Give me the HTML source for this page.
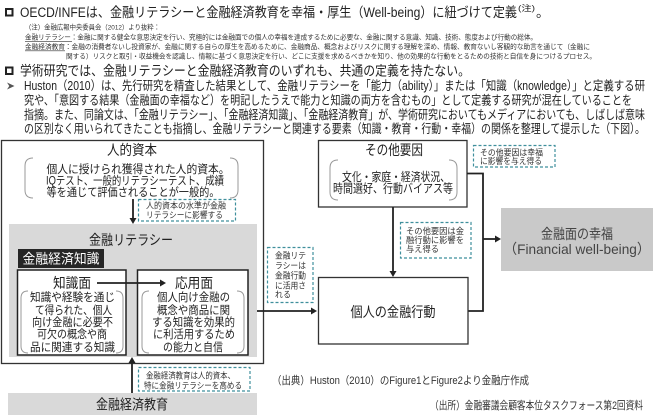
<!DOCTYPE html>
<html><head><meta charset="utf-8">
<style>
html,body{margin:0;padding:0;background:#fff;}
svg{display:block;}
text{font-family:"Liberation Sans","Noto Sans CJK JP",sans-serif;}
</style></head>
<body>
<svg width="660" height="419" viewBox="0 0 660 419" xmlns="http://www.w3.org/2000/svg">
<rect width="660" height="419" fill="#fff"/>

<!-- ===== Header ===== -->
<rect x="6" y="9" width="6.5" height="6.5" fill="none" stroke="#222" stroke-width="2"/>
<text x="20" y="17" font-size="13.5" fill="#222" textLength="497" lengthAdjust="spacingAndGlyphs">OECD/INFEは、金融リテラシーと金融経済教育を幸福・厚生（Well-being）に紐づけて定義</text>
<text x="518" y="11" font-size="8" fill="#222" textLength="17" lengthAdjust="spacingAndGlyphs">(注)</text>
<text x="536" y="17" font-size="13.5" fill="#222">。</text>

<text x="25" y="29.5" font-size="6.8" fill="#333" textLength="135" lengthAdjust="spacingAndGlyphs">（注）金融広報中央委員会（2012）より抜粋：</text>
<text x="25" y="39.5" font-size="6.8" fill="#333" textLength="512" lengthAdjust="spacingAndGlyphs">金融リテラシー：金融に関する健全な意思決定を行い、究極的には金融面での個人の幸福を達成するために必要な、金融に関する意識、知識、技術、態度および行動の総体。</text>
<line x1="25" y1="41.3" x2="72" y2="41.3" stroke="#333" stroke-width="0.6"/>
<text x="25" y="49" font-size="6.8" fill="#333" textLength="565" lengthAdjust="spacingAndGlyphs">金融経済教育：金融の消費者ないし投資家が、金融に関する自らの厚生を高めるために、金融商品、概念およびリスクに関する理解を深め、情報、教育ないし客観的な助言を通じて（金融に</text>
<line x1="25" y1="50.8" x2="65" y2="50.8" stroke="#333" stroke-width="0.6"/>
<text x="66" y="58.5" font-size="6.8" fill="#333" textLength="530" lengthAdjust="spacingAndGlyphs">関する）リスクと取引・収益機会を認識し、情報に基づく意思決定を行い、どこに支援を求めるべきかを知り、他の効果的な行動をとるための技術と自信を身につけるプロセス。</text>

<rect x="6" y="67.5" width="6.5" height="6.5" fill="none" stroke="#222" stroke-width="2"/>
<text x="20" y="75.5" font-size="13.5" fill="#222" textLength="450" lengthAdjust="spacingAndGlyphs">学術研究では、金融リテラシーと金融経済教育のいずれも、共通の定義を持たない。</text>

<polygon points="7,82.5 14.5,86 7,89.5 9.3,86" fill="#555"/>
<text x="24" y="90" font-size="12.5" fill="#222" textLength="621" lengthAdjust="spacingAndGlyphs">Huston（2010）は、先行研究を精査した結果として、金融リテラシーを「能力（ability）」または「知識（knowledge）」と定義する研</text>
<text x="24" y="104.5" font-size="12.5" fill="#222" textLength="608" lengthAdjust="spacingAndGlyphs">究や、「意図する結果（金融面の幸福など）を明記したうえで能力と知識の両方を含むもの」として定義する研究が混在していることを</text>
<text x="24" y="119" font-size="12.5" fill="#222" textLength="621" lengthAdjust="spacingAndGlyphs">指摘。また、同論文は、「金融リテラシー」、「金融経済知識」、「金融経済教育」が、学術研究においてもメディアにおいても、しばしば意味</text>
<text x="24" y="133" font-size="12.5" fill="#222" textLength="621" lengthAdjust="spacingAndGlyphs">の区別なく用いられてきたことも指摘し、金融リテラシーと関連する要素（知識・教育・行動・幸福）の関係を整理して提示した（下図）。</text>

<!-- ===== Left big box: 人的資本 ===== -->
<rect x="1.5" y="140.5" width="262" height="223" fill="none" stroke="#333" stroke-width="1.3"/>
<text x="132" y="155" font-size="14" text-anchor="middle" fill="#222" textLength="50" lengthAdjust="spacingAndGlyphs">人的資本</text>
<path d="M33,158 Q25,158 25,166 L25,190 Q25,198 33,198" fill="none" stroke="#999" stroke-width="1"/>
<path d="M230,158 Q238,158 238,166 L238,190 Q238,198 230,198" fill="none" stroke="#999" stroke-width="1"/>
<text x="138" y="173" font-size="11.5" text-anchor="middle" fill="#222" textLength="183" lengthAdjust="spacingAndGlyphs">個人に授けられ獲得された人的資本。</text>
<text x="135" y="184.5" font-size="11.5" text-anchor="middle" fill="#222" textLength="178" lengthAdjust="spacingAndGlyphs">IQテスト、一般的リテラシーテスト、成績</text>
<text x="133" y="196" font-size="11.5" text-anchor="middle" fill="#222" textLength="173" lengthAdjust="spacingAndGlyphs">等を通じて評価されることが一般的。</text>

<line x1="133" y1="199" x2="133" y2="219" stroke="#222" stroke-width="1.8"/>
<polygon points="129.5,218 136.5,218 133,224" fill="#222"/>
<rect x="138.5" y="199.5" width="97" height="21.5" fill="#fff" stroke="#3f8f9c" stroke-width="1.2" stroke-dasharray="3,2"/>
<text x="146" y="208.5" font-size="8.5" fill="#333" textLength="80" lengthAdjust="spacingAndGlyphs">人的資本の水準が金融</text>
<text x="146" y="218" font-size="8.5" fill="#333" textLength="77" lengthAdjust="spacingAndGlyphs">リテラシーに影響する</text>

<!-- 金融リテラシー gray -->
<rect x="9" y="224" width="248" height="133" fill="#d9d9d9"/>
<text x="131" y="245" font-size="14" text-anchor="middle" fill="#222" textLength="84" lengthAdjust="spacingAndGlyphs">金融リテラシー</text>
<rect x="18" y="249" width="86" height="19" fill="#262626"/>
<text x="61" y="263.5" font-size="13.5" text-anchor="middle" fill="#fff" textLength="77" lengthAdjust="spacingAndGlyphs">金融経済知識</text>

<rect x="17.5" y="270" width="108.5" height="85" fill="#fff" stroke="#222" stroke-width="1.5"/>
<rect x="137.5" y="270" width="110.5" height="85" fill="#fff" stroke="#222" stroke-width="1.5"/>
<text x="72" y="288" font-size="14" text-anchor="middle" fill="#222" textLength="38" lengthAdjust="spacingAndGlyphs">知識面</text>
<text x="194" y="288" font-size="14" text-anchor="middle" fill="#222" textLength="38" lengthAdjust="spacingAndGlyphs">応用面</text>
<line x1="97" y1="283" x2="161" y2="283" stroke="#222" stroke-width="1.8"/>
<polygon points="160,279.5 166,283 160,286.5" fill="#222"/>

<path d="M28,291 Q21,291 21,298 L21,346 Q21,353 28,353" fill="none" stroke="#999" stroke-width="1"/>
<path d="M116,291 Q123,291 123,298 L123,346 Q123,353 116,353" fill="none" stroke="#999" stroke-width="1"/>
<text x="72.5" y="301" font-size="11.5" text-anchor="middle" fill="#222" textLength="85" lengthAdjust="spacingAndGlyphs">知識や経験を通じ</text>
<text x="73.5" y="314" font-size="11.5" text-anchor="middle" fill="#222" textLength="77" lengthAdjust="spacingAndGlyphs">て得られた、個人</text>
<text x="72.5" y="326" font-size="11.5" text-anchor="middle" fill="#222" textLength="81" lengthAdjust="spacingAndGlyphs">向け金融に必要不</text>
<text x="72" y="338" font-size="11.5" text-anchor="middle" fill="#222" textLength="70" lengthAdjust="spacingAndGlyphs">可欠の概念や商</text>
<text x="72.5" y="351" font-size="11.5" text-anchor="middle" fill="#222" textLength="85" lengthAdjust="spacingAndGlyphs">品に関連する知識</text>

<path d="M149,291 Q142,291 142,298 L142,346 Q142,353 149,353" fill="none" stroke="#999" stroke-width="1"/>
<path d="M237,291 Q244,291 244,298 L244,346 Q244,353 237,353" fill="none" stroke="#999" stroke-width="1"/>
<text x="193.5" y="301" font-size="11.5" text-anchor="middle" fill="#222" textLength="73" lengthAdjust="spacingAndGlyphs">個人向け金融の</text>
<text x="193.5" y="314" font-size="11.5" text-anchor="middle" fill="#222" textLength="73" lengthAdjust="spacingAndGlyphs">概念や商品に関</text>
<text x="193.5" y="326" font-size="11.5" text-anchor="middle" fill="#222" textLength="83" lengthAdjust="spacingAndGlyphs">する知識を効果的</text>
<text x="194" y="338" font-size="11.5" text-anchor="middle" fill="#222" textLength="82" lengthAdjust="spacingAndGlyphs">に利活用するため</text>
<text x="193" y="351" font-size="11.5" text-anchor="middle" fill="#222" textLength="60" lengthAdjust="spacingAndGlyphs">の能力と自信</text>

<!-- 金融経済教育 bottom -->
<rect x="138.5" y="367.5" width="111.5" height="23.5" fill="#fff" stroke="#3f8f9c" stroke-width="1.2" stroke-dasharray="3,2"/>
<text x="146" y="378.5" font-size="8.5" fill="#333" textLength="89" lengthAdjust="spacingAndGlyphs">金融経済教育は人的資本、</text>
<text x="144" y="388.5" font-size="8.5" fill="#333" textLength="98" lengthAdjust="spacingAndGlyphs">特に金融リテラシーを高める</text>
<line x1="132" y1="393" x2="132" y2="362" stroke="#222" stroke-width="1.8"/>
<polygon points="128.5,363 135.5,363 132,357" fill="#222"/>
<rect x="8" y="393" width="249" height="22" fill="#d9d9d9"/>
<text x="132" y="409.5" font-size="14" text-anchor="middle" fill="#222" textLength="72" lengthAdjust="spacingAndGlyphs">金融経済教育</text>

<!-- connector literacy -> behaviour -->
<line x1="257" y1="311" x2="312" y2="311" stroke="#222" stroke-width="1.8"/>
<polygon points="311,307.5 317,311 311,314.5" fill="#222"/>
<rect x="267.5" y="247.5" width="45.5" height="55" fill="#fff" stroke="#3f8f9c" stroke-width="1.2" stroke-dasharray="3,2"/>
<text x="275" y="258.5" font-size="8.8" fill="#333" textLength="31" lengthAdjust="spacingAndGlyphs">金融リテ</text>
<text x="275" y="268.5" font-size="8.8" fill="#333" textLength="31" lengthAdjust="spacingAndGlyphs">ラシーは</text>
<text x="275" y="278.5" font-size="8.8" fill="#333" textLength="31" lengthAdjust="spacingAndGlyphs">金融行動</text>
<text x="275" y="288.5" font-size="8.8" fill="#333" textLength="31" lengthAdjust="spacingAndGlyphs">に活用さ</text>
<text x="275" y="297.5" font-size="8.8" fill="#333" textLength="16" lengthAdjust="spacingAndGlyphs">れる</text>

<!-- ===== その他要因 ===== -->
<rect x="318.5" y="140.5" width="148.5" height="66.5" fill="#fff" stroke="#333" stroke-width="1.3"/>
<text x="394" y="155" font-size="14" text-anchor="middle" fill="#222" textLength="58" lengthAdjust="spacingAndGlyphs">その他要因</text>
<path d="M338,160 Q330,160 330,168 L330,192 Q330,200 338,200" fill="none" stroke="#999" stroke-width="1"/>
<path d="M449,160 Q457,160 457,168 L457,192 Q457,200 449,200" fill="none" stroke="#999" stroke-width="1"/>
<text x="396" y="181" font-size="12" text-anchor="middle" fill="#222" textLength="108" lengthAdjust="spacingAndGlyphs">文化・家庭・経済状況、</text>
<text x="393" y="192.5" font-size="12" text-anchor="middle" fill="#222" textLength="120" lengthAdjust="spacingAndGlyphs">時間選好、行動バイアス等</text>

<rect x="473.5" y="145.5" width="81.5" height="21.5" fill="#fff" stroke="#3f8f9c" stroke-width="1.2" stroke-dasharray="3,2"/>
<text x="480" y="155.5" font-size="8.5" fill="#333" textLength="63" lengthAdjust="spacingAndGlyphs">その他要因は幸福</text>
<text x="480" y="164" font-size="8.5" fill="#333" textLength="62" lengthAdjust="spacingAndGlyphs">に影響を与え得る</text>

<polyline points="467,173.5 483,173.5 483,311 468,311" fill="none" stroke="#222" stroke-width="1.8"/>
<line x1="483" y1="239" x2="496" y2="239" stroke="#222" stroke-width="1.8"/>
<polygon points="495,235.5 501,239 495,242.5" fill="#222"/>

<line x1="393" y1="207" x2="393" y2="272" stroke="#222" stroke-width="1.8"/>
<polygon points="389.5,271 396.5,271 393,277" fill="#222"/>
<rect x="400.5" y="222.5" width="70.5" height="35.5" fill="#fff" stroke="#3f8f9c" stroke-width="1.2" stroke-dasharray="3,2"/>
<text x="406" y="234" font-size="8.5" fill="#333" textLength="58" lengthAdjust="spacingAndGlyphs">その他要因は金</text>
<text x="406" y="243" font-size="8.5" fill="#333" textLength="58" lengthAdjust="spacingAndGlyphs">融行動に影響を</text>
<text x="406" y="252" font-size="8.5" fill="#333" textLength="33" lengthAdjust="spacingAndGlyphs">与え得る</text>

<!-- 個人の金融行動 -->
<rect x="318.5" y="277.5" width="149.5" height="66.5" fill="#fff" stroke="#333" stroke-width="1.3"/>
<text x="393" y="317" font-size="14" text-anchor="middle" fill="#222" textLength="85" lengthAdjust="spacingAndGlyphs">個人の金融行動</text>

<!-- 金融面の幸福 -->
<rect x="501" y="208" width="152" height="63" fill="#c9c9c9"/>
<text x="577" y="239" font-size="14" text-anchor="middle" fill="#444" textLength="72" lengthAdjust="spacingAndGlyphs">金融面の幸福</text>
<text x="577" y="254" font-size="14" text-anchor="middle" fill="#444" textLength="147" lengthAdjust="spacingAndGlyphs">（Financial well-being）</text>

<!-- Sources -->
<text x="272" y="384" font-size="11" fill="#333" textLength="257" lengthAdjust="spacingAndGlyphs">（出典）Huston（2010）のFigure1とFigure2より金融庁作成</text>
<text x="430" y="409" font-size="11" fill="#333" textLength="213" lengthAdjust="spacingAndGlyphs">（出所）金融審議会顧客本位タスクフォース第2回資料</text>
</svg>
</body></html>
